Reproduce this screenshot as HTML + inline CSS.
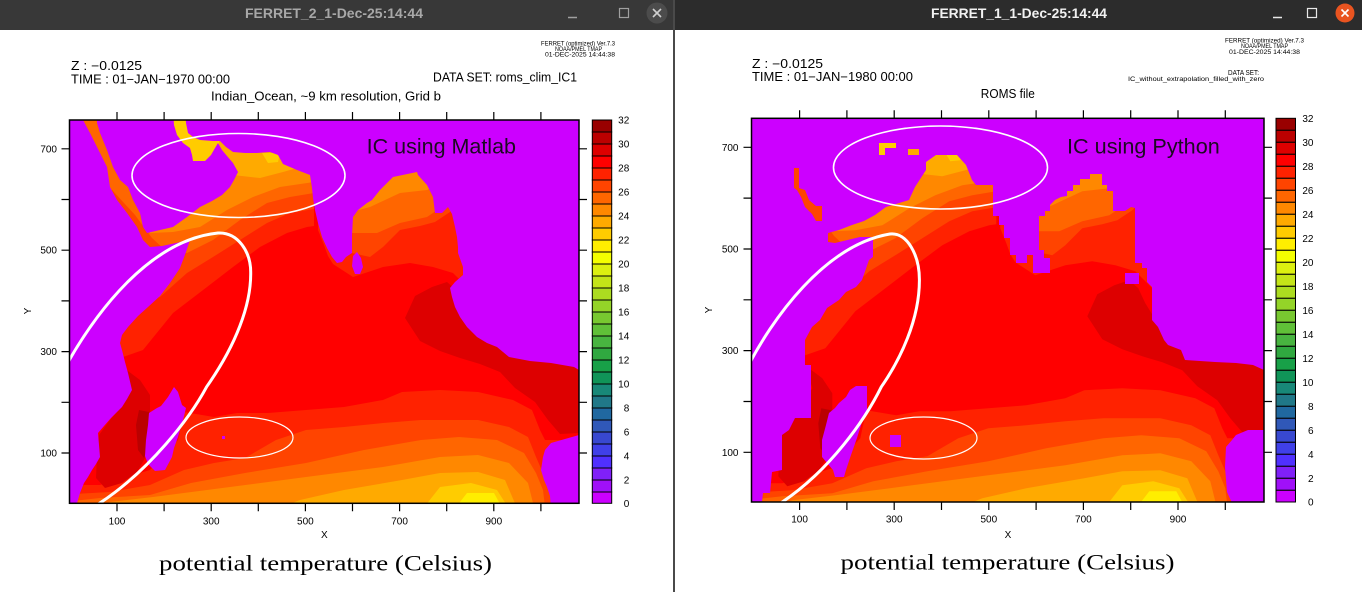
<!DOCTYPE html>
<html><head><meta charset="utf-8"><style>
html,body{margin:0;padding:0;background:#fff;}
svg{display:block;}
text{font-family:"Liberation Sans",sans-serif;fill:#000;}
</style></head><body>
<svg width="1362" height="592" viewBox="0 0 1362 592" xmlns="http://www.w3.org/2000/svg">
<defs>
<clipPath id="cl"><rect x="69.5" y="120" width="509.5" height="383.5"/></clipPath>
<clipPath id="cr"><rect x="751.5" y="118.3" width="512.5" height="383.7"/></clipPath>
<g id="oc">
<rect x="55" y="105" width="545" height="410" fill="#ff0000"/>
<path fill="#ff2200" d="M55,105 L55,372 L120,358 L143,350 L173,313 L207,287 L233,267 L260,247 L287,233 L307,227 L314,226 L314,105 Z"/>
<path fill="#ff4400" d="M55,105 L55,300 L150,300 L160,297 L187,273 L213,257 L240,240 L267,223 L290,213 L314,209 L314,105 Z"/>
<path fill="#ff6600" d="M55,105 L55,190 L112,190 L135,215 L152,238 L165,250 L187,253 L213,240 L240,220 L267,203 L290,197 L314,193 L314,105 Z"/>
<path fill="#ff8800" d="M150,105 L150,233 L173,232 L200,227 L227,210 L253,197 L280,187 L314,182 L314,105 Z"/>
<path fill="#ffaa00" d="M214,105 L214,165 L233,175 L260,178 L283,172 L297,168 L314,166 L314,105 Z"/>
<path fill="#ffcc00" d="M165,105 L219,105 L219,146 L213,158 L200,163 L188,163 L178,150 L168,138 Z M262,153 L280,153 L278,162 L268,163 Z"/>
<path fill="#ff2200" d="M318,105 L318,230 L324,245 L328,256 L333,264 L353,277 L383,267 L410,263 L433,267 L453,273 L467,287 L485,305 L600,305 L600,105 Z"/>
<path fill="#ff4400" d="M340,105 L340,253 L352,253 L370,257 L383,247 L400,230 L420,226 L435,222 L450,212 L462,200 L600,200 L600,105 Z"/>
<path fill="#ff6600" d="M340,105 L340,233 L377,233 L400,223 L427,217 L445,205 L600,195 L600,105 Z"/>
<path fill="#ff8800" d="M340,105 L340,215 L370,207 L400,193 L427,190 L440,185 L600,185 L600,105 Z"/>
<path fill="#dd0000" d="M405,318 L415,296 L432,287 L447,282 L456,290 L463,305 L476,326 L490,342 L510,352 L545,357 L600,360 L600,432 L560,434 L548,420 L535,402 L515,388 L500,372 L480,364 L460,358 L440,351 L420,341 Z"/>
<path fill="#ff2200" d="M55,515 L55,485 L100,485 L150,470 L178,440 L184,412 L214,417 L237,413 L268,413 L306,410 L344,407 L383,400 L402,392 L440,390 L478,392 L513,400 L532,410 L540,430 L545,440 L600,440 L600,515 Z"/>
<path fill="#ff4400" d="M55,515 L55,495 L110,492 L150,485 L184,470 L214,463 L245,458 L276,440 L306,430 L344,427 L383,423 L421,420 L478,420 L509,427 L528,437 L536,457 L543,473 L600,473 L600,515 Z"/>
<path fill="#ff6600" d="M55,515 L55,503 L100,498 L150,495 L191,483 L245,473 L306,463 L364,450 L421,440 L459,437 L497,440 L524,453 L536,473 L543,490 L546,515 Z"/>
<path fill="#ff8800" d="M78,515 L110,502 L153,497 L230,487 L306,477 L383,467 L440,457 L478,455 L509,463 L528,483 L536,515 Z"/>
<path fill="#ffaa00" d="M262,515 L300,500 L344,490 L402,480 L440,473 L478,472 L505,480 L520,515 Z"/>
<path fill="#ffcc00" d="M418,515 L440,487 L471,483 L497,490 L513,515 Z"/>
<path fill="#ffee00" d="M450,515 L467,493 L494,493 L506,515 Z"/>
<path fill="#dd0000" d="M124,368 L140,380 L150,395 L150,413 L147,440 L145,458 L137,472 L122,483 L105,488 L96,478 L97,455 L99,435 L110,420 L121,407 L130,390 Z"/>
<path fill="#bb0000" d="M139,410 L149,412 L148,445 L144,458 L138,450 L136,425 Z"/>
</g>
</defs>

<!-- window chrome -->
<rect x="0" y="0" width="1362" height="592" fill="#ffffff"/>
<rect x="0" y="0" width="673" height="30" fill="#383838"/>
<rect x="673" y="0" width="2" height="592" fill="#4a4a4a"/>
<rect x="675" y="0" width="687" height="30" fill="#2c2c2c"/>
<text x="334" y="18" font-size="14" font-weight="bold" text-anchor="middle" textLength="178" lengthAdjust="spacingAndGlyphs" style="fill:#a8a8a8">FERRET_2_1-Dec-25:14:44</text>
<text x="1019" y="18" font-size="14" font-weight="bold" text-anchor="middle" textLength="176" lengthAdjust="spacingAndGlyphs" style="fill:#f2f2f2">FERRET_1_1-Dec-25:14:44</text>
<line x1="568" y1="17.5" x2="577" y2="17.5" stroke="#a0a0a0" stroke-width="1.5"/>
<rect x="619.5" y="8.5" width="9" height="9" fill="none" stroke="#a0a0a0" stroke-width="1.2"/>
<circle cx="657" cy="13" r="10.5" fill="#4c4c4c"/>
<path d="M653,9 L661,17 M661,9 L653,17" stroke="#d0d0d0" stroke-width="1.6"/>
<line x1="1273" y1="17.5" x2="1282" y2="17.5" stroke="#e8e8e8" stroke-width="1.5"/>
<rect x="1307.5" y="8.5" width="9" height="9" fill="none" stroke="#e8e8e8" stroke-width="1.2"/>
<circle cx="1345" cy="13" r="9.5" fill="#e95420"/>
<path d="M1341.5,9.5 L1348.5,16.5 M1348.5,9.5 L1341.5,16.5" stroke="#ffffff" stroke-width="1.6"/>

<!-- LEFT header -->
<text x="541" y="45.7" font-size="6" textLength="74" lengthAdjust="spacingAndGlyphs">FERRET (optimized) Ver.7.3</text>
<text x="555" y="50.9" font-size="6" textLength="47" lengthAdjust="spacingAndGlyphs">NOAA/PMEL TMAP</text>
<text x="545" y="56.6" font-size="6" textLength="70" lengthAdjust="spacingAndGlyphs">01-DEC-2025 14:44:38</text>
<text x="71" y="70" font-size="12.5" textLength="71" lengthAdjust="spacingAndGlyphs">Z : −0.0125</text>
<text x="71" y="83.3" font-size="12.5" textLength="159" lengthAdjust="spacingAndGlyphs">TIME : 01−JAN−1970 00:00</text>
<text x="433" y="81.7" font-size="12.5" textLength="144" lengthAdjust="spacingAndGlyphs">DATA SET: roms_clim_IC1</text>
<text x="211" y="100.7" font-size="12.5" textLength="230" lengthAdjust="spacingAndGlyphs">Indian_Ocean, ~9 km resolution, Grid b</text>

<!-- LEFT plot -->
<g clip-path="url(#cl)">
<use href="#oc"/>
<g fill="#cc00ff">
<path d="M60,110 L83,110 L83,120 L90,133 L100,153 L107,167 L110,187 L117,200 L127,213 L137,227 L143,240 L150,247 L162,246 L176,243 L190,240 L186,252 L180,268 L170,283 L160,296 L148,307 L138,316 L128,327 L122,335 L120,343 L122,350 L125,362 L128,373 L132,390 L127,399 L122,407 L111,418 L104,426 L98,433 L99,445 L100,457 L96,464 L92,470 L88,477 L84,483 L80,493 L77,503 L76,510 L60,510 Z"/>
<path d="M97,110 L173,110 L174,125 L177,135 L183,143 L190,148 L192,155 L193,161 L205,161 L211,155 L215,148 L218,143 L222,150 L227,156 L233,163 L238,172 L234,180 L230,187 L222,195 L212,201 L200,207 L187,217 L173,227 L160,230 L147,233 L143,227 L140,213 L133,200 L128,187 L120,180 L113,167 L107,150 L100,133 L97,123 Z"/>
<path d="M184,110 L590,110 L590,371 L579,370 L574,367 L551,363 L530,361 L509,357 L497,347 L487,343 L477,337 L467,327 L460,317 L455,307 L452,297 L450,288 L455,282 L463,275 L463,267 L458,253 L458,247 L457,237 L455,227 L452,214 L448,207 L442,213 L435,213 L433,197 L427,185 L418,175 L417,172 L393,177 L390,180 L380,190 L372,200 L367,203 L358,210 L353,217 L352,235 L352,253 L346,257 L342,262 L337,263 L332,257 L327,248 L322,237 L318,223 L315,210 L313,198 L312,188 L310,175 L297,170 L283,164 L278,155 L270,152 L257,153 L245,153 L233,152 L226,147 L220,141 L213,141 L200,140 L193,137 L188,133 L186,123 L185,110 Z"/>
<path d="M353,256 L357,252 L361,258 L363,267 L360,274 L355,274 L352,266 Z"/>
<path d="M174,387 L178,392 L182,405 L186,408 L183,420 L178,437 L174,448 L172,457 L165,470 L155,471 L148,464 L145,456 L146,440 L148,425 L149,413 L157,408 L161,406 L168,397 Z"/>
<path d="M590,434 L579,435 L565,439 L551,443 L545,450 L543,457 L541,470 L544,480 L547,487 L550,496 L551,510 L590,510 Z"/>
<rect x="222" y="436" width="3" height="3"/>
</g>
<ellipse cx="238.5" cy="175.5" rx="106.5" ry="42" fill="none" stroke="#fff" stroke-width="1.6"/>
<ellipse cx="239.5" cy="437.5" rx="53.5" ry="20.5" fill="none" stroke="#fff" stroke-width="1.2"/>
<path d="M62,373 C95,312 150,240 218,233 C238,232 251,252 250.7,273 C251,305 236,345 206.7,386.7 C190,418 150,470 99.5,503.3 L90,509" fill="none" stroke="#fff" stroke-width="3" stroke-linejoin="round"/>
<text x="366.7" y="153.3" font-size="21" textLength="149.3" lengthAdjust="spacingAndGlyphs" style="fill:#1c0a22">IC using Matlab</text>
</g>
<rect x="69.5" y="120" width="509.5" height="383.3" fill="none" stroke="#000" stroke-width="1.5"/>
<path stroke="#000" stroke-width="1.2" d="M117,112V120M164.1,112V120M211.2,112V120M258.3,112V120M305.4,112V120M352.5,112V120M399.6,112V120M446.7,112V120M493.8,112V120M540.9,112V120
M117,503.3V511.3M164.1,503.3V511.3M211.2,503.3V511.3M258.3,503.3V511.3M305.4,503.3V511.3M352.5,503.3V511.3M399.6,503.3V511.3M446.7,503.3V511.3M493.8,503.3V511.3M540.9,503.3V511.3
M61.5,148.8H69.5M61.5,199.5H69.5M61.5,250.2H69.5M61.5,300.9H69.5M61.5,351.6H69.5M61.5,402.3H69.5M61.5,453H69.5
M579,148.8H587M579,199.5H587M579,250.2H587M579,300.9H587M579,351.6H587M579,402.3H587M579,453H587"/>
<g font-size="10" text-anchor="end">
<text x="57" y="152.3">700</text><text x="57" y="253.7">500</text><text x="57" y="355.1">300</text><text x="57" y="456.5">100</text>
</g>
<g font-size="10" text-anchor="middle">
<text x="117" y="524.5">100</text><text x="211.2" y="524.5">300</text><text x="305.4" y="524.5">500</text><text x="399.6" y="524.5">700</text><text x="493.8" y="524.5">900</text>
<text x="324.3" y="538">X</text>
<text transform="translate(31,311) rotate(-90)" x="0" y="0">Y</text>
</g>
<text x="159" y="570.7" font-size="22" textLength="333" lengthAdjust="spacingAndGlyphs" style="font-family:'Liberation Serif',serif">potential temperature (Celsius)</text>

<!-- LEFT colorbar -->
<g stroke="#000" stroke-width="1">
<rect x="592.3" y="120" width="19.4" height="12" fill="#990000"/>
<rect x="592.3" y="132" width="19.4" height="12" fill="#bb0000"/>
<rect x="592.3" y="144" width="19.4" height="12" fill="#dd0000"/>
<rect x="592.3" y="156" width="19.4" height="12" fill="#ff0000"/>
<rect x="592.3" y="168" width="19.4" height="12" fill="#ff2200"/>
<rect x="592.3" y="180" width="19.4" height="12" fill="#ff4400"/>
<rect x="592.3" y="192" width="19.4" height="12" fill="#ff6600"/>
<rect x="592.3" y="204" width="19.4" height="12" fill="#ff8800"/>
<rect x="592.3" y="216" width="19.4" height="12" fill="#ffaa00"/>
<rect x="592.3" y="228" width="19.4" height="12" fill="#ffcc00"/>
<rect x="592.3" y="240" width="19.4" height="12" fill="#ffee00"/>
<rect x="592.3" y="252" width="19.4" height="12" fill="#f4ff00"/>
<rect x="592.3" y="264" width="19.4" height="12" fill="#dcf010"/>
<rect x="592.3" y="276" width="19.4" height="12" fill="#c4e418"/>
<rect x="592.3" y="288" width="19.4" height="12" fill="#acdc20"/>
<rect x="592.3" y="300" width="19.4" height="12" fill="#94d428"/>
<rect x="592.3" y="312" width="19.4" height="12" fill="#78c830"/>
<rect x="592.3" y="324" width="19.4" height="12" fill="#60c038"/>
<rect x="592.3" y="336" width="19.4" height="12" fill="#48b440"/>
<rect x="592.3" y="348" width="19.4" height="12" fill="#30a840"/>
<rect x="592.3" y="360" width="19.4" height="12" fill="#18a048"/>
<rect x="592.3" y="372" width="19.4" height="12" fill="#109458"/>
<rect x="592.3" y="384" width="19.4" height="12" fill="#188878"/>
<rect x="592.3" y="396" width="19.4" height="12" fill="#207888"/>
<rect x="592.3" y="408" width="19.4" height="12" fill="#2068a0"/>
<rect x="592.3" y="420" width="19.4" height="12" fill="#3058b8"/>
<rect x="592.3" y="432" width="19.4" height="12" fill="#3848d0"/>
<rect x="592.3" y="444" width="19.4" height="12" fill="#4040e8"/>
<rect x="592.3" y="456" width="19.4" height="12" fill="#5030ff"/>
<rect x="592.3" y="468" width="19.4" height="12" fill="#8020f8"/>
<rect x="592.3" y="480" width="19.4" height="12" fill="#a010f8"/>
<rect x="592.3" y="492" width="19.4" height="11.3" fill="#cc00ff"/>
</g>
<g font-size="10" text-anchor="end">
<text x="629.3" y="123.5">32</text><text x="629.3" y="147.5">30</text><text x="629.3" y="171.5">28</text><text x="629.3" y="195.5">26</text><text x="629.3" y="219.5">24</text><text x="629.3" y="243.5">22</text><text x="629.3" y="267.5">20</text><text x="629.3" y="291.5">18</text><text x="629.3" y="315.5">16</text><text x="629.3" y="339.5">14</text><text x="629.3" y="363.5">12</text><text x="629.3" y="387.5">10</text><text x="629.3" y="411.5">8</text><text x="629.3" y="435.5">6</text><text x="629.3" y="459.5">4</text><text x="629.3" y="483.5">2</text><text x="629.3" y="507">0</text>
</g>

<!-- RIGHT header -->
<text x="1225" y="42.3" font-size="6" textLength="79" lengthAdjust="spacingAndGlyphs">FERRET (optimized) Ver.7.3</text>
<text x="1241" y="47.8" font-size="6" textLength="47" lengthAdjust="spacingAndGlyphs">NOAA/PMEL TMAP</text>
<text x="1229" y="53.8" font-size="6" textLength="71" lengthAdjust="spacingAndGlyphs">01-DEC-2025 14:44:38</text>
<text x="1228" y="75" font-size="7" textLength="31" lengthAdjust="spacingAndGlyphs">DATA SET:</text>
<text x="1128" y="80.8" font-size="6.5" textLength="136" lengthAdjust="spacingAndGlyphs">IC_without_extrapolation_filled_with_zero</text>
<text x="752" y="67.8" font-size="12.5" textLength="71" lengthAdjust="spacingAndGlyphs">Z : −0.0125</text>
<text x="752" y="81.2" font-size="12.5" textLength="161" lengthAdjust="spacingAndGlyphs">TIME : 01−JAN−1980 00:00</text>
<text x="1007.8" y="97.8" font-size="12.5" text-anchor="middle" textLength="54" lengthAdjust="spacingAndGlyphs">ROMS file</text>

<!-- RIGHT plot -->
<g clip-path="url(#cr)">
<use href="#oc" transform="translate(682.3,-1.7)"/>
<g fill="#cc00ff">
<path d="M745,105 L1275,105 L1275,372 L1264,370 L1253,365 L1236,363 L1215,362 L1185,360 L1181,350 L1168,345 L1164,340 L1158,327 L1152,320 L1152,287 L1147,282 L1147,268 L1142,268 L1142,263 L1135,263 L1135,208 L1131,207 L1125,211 L1113,211 L1113,191 L1107,191 L1107,185 L1102,185 L1102,174 L1090,174 L1090,179 L1080,179 L1080,185 L1073,185 L1073,191 L1067,191 L1067,196 L1061,197 L1055,200 L1050,205 L1050,211 L1045,211 L1045,216 L1039,216 L1039,250 L1044,250 L1044,258 L1050,258 L1050,273 L1033,273 L1033,255 L1027,255 L1027,263 L1016,263 L1016,255 L1010,255 L1010,238 L1004,238 L1004,225 L999,225 L999,216 L993,216 L993,185 L976,185 L972,180 L966,165 L957,155 L936,155 L926,162 L926,170 L915,187 L909,200 L886,207 L875,215 L864,221 L852,225 L839,230 L828,233 L828,242 L835,243 L860,237 L873,237 L873,257 L869,260 L862,280 L856,287 L846,292 L839,300 L827,308 L820,320 L812,327 L805,340 L805,365 L811,365 L811,418 L795,418 L789,430 L782,435 L782,470 L772,472 L770,493 L763,493 L761,510 L745,510 Z"/>
<path d="M856,386 L867,386 L867,410 L862,422 L857,438 L851,455 L846,470 L844,477 L835,477 L833,470 L822,457 L822,440 L826,425 L829,413 L835,408 L839,403 L846,397 L850,390 Z"/>
<path d="M1275,430 L1248,430 L1236,435 L1232,440 L1226,447 L1225,467 L1227,492 L1232,503 L1232,510 L1275,510 Z"/>
<rect x="1125" y="273" width="14" height="11"/>
<rect x="890" y="435" width="11" height="12"/>
</g>
<path fill="#ff4400" d="M794,168 L799,168 L799,188 L805,190 L809,200 L816,206 L822,206 L822,221 L816,221 L812,214 L805,207 L801,197 L797,190 L794,188 Z"/>
<path fill="#ffcc00" d="M879,143 L896,143 L896,148 L885,148 L885,155 L879,155 Z"/>
<path fill="#ffaa00" d="M908,149 L919,149 L919,155 L908,155 Z"/>
<ellipse cx="940.5" cy="167.5" rx="107" ry="41.5" fill="none" stroke="#fff" stroke-width="1.6"/>
<ellipse cx="923.5" cy="438" rx="53.5" ry="21" fill="none" stroke="#fff" stroke-width="1.2"/>
<path d="M745,372 C772,318 825,245 889.9,234 C907,232 919.5,255 919.4,280 C919.5,320 900,360 881.4,386.7 C865,420 830,470 782.3,502 L775,508" fill="none" stroke="#fff" stroke-width="3" stroke-linejoin="round"/>
<text x="1067" y="153.3" font-size="21" textLength="152.8" lengthAdjust="spacingAndGlyphs" style="fill:#1c0a22">IC using Python</text>
</g>
<rect x="751.5" y="118.3" width="512.5" height="383.7" fill="none" stroke="#000" stroke-width="1.5"/>
<path stroke="#000" stroke-width="1.2" d="M799.6,110.3V118.3M846.9,110.3V118.3M894.2,110.3V118.3M941.5,110.3V118.3M988.8,110.3V118.3M1036.1,110.3V118.3M1083.4,110.3V118.3M1130.7,110.3V118.3M1178,110.3V118.3M1225.3,110.3V118.3
M799.6,502V510M846.9,502V510M894.2,502V510M941.5,502V510M988.8,502V510M1036.1,502V510M1083.4,502V510M1130.7,502V510M1178,502V510M1225.3,502V510
M743.5,147.3H751.5M743.5,198.1H751.5M743.5,249H751.5M743.5,299.8H751.5M743.5,350.6H751.5M743.5,401.5H751.5M743.5,452.3H751.5
M1264,147.3H1272M1264,198.1H1272M1264,249H1272M1264,299.8H1272M1264,350.6H1272M1264,401.5H1272M1264,452.3H1272"/>
<g font-size="10" text-anchor="end">
<text x="738.5" y="150.8">700</text><text x="738.5" y="252.5">500</text><text x="738.5" y="354.1">300</text><text x="738.5" y="455.8">100</text>
</g>
<g font-size="10" text-anchor="middle">
<text x="799.6" y="522.7">100</text><text x="894.2" y="522.7">300</text><text x="988.8" y="522.7">500</text><text x="1083.4" y="522.7">700</text><text x="1178" y="522.7">900</text>
<text x="1008" y="538">X</text>
<text transform="translate(712,310) rotate(-90)" x="0" y="0">Y</text>
</g>
<text x="840.5" y="569.5" font-size="22" textLength="334" lengthAdjust="spacingAndGlyphs" style="font-family:'Liberation Serif',serif">potential temperature (Celsius)</text>

<!-- RIGHT colorbar -->
<g stroke="#000" stroke-width="1">
<rect x="1276" y="118.3" width="19.5" height="12" fill="#990000"/>
<rect x="1276" y="130.3" width="19.5" height="12" fill="#bb0000"/>
<rect x="1276" y="142.3" width="19.5" height="12" fill="#dd0000"/>
<rect x="1276" y="154.3" width="19.5" height="12" fill="#ff0000"/>
<rect x="1276" y="166.3" width="19.5" height="12" fill="#ff2200"/>
<rect x="1276" y="178.3" width="19.5" height="12" fill="#ff4400"/>
<rect x="1276" y="190.3" width="19.5" height="12" fill="#ff6600"/>
<rect x="1276" y="202.3" width="19.5" height="12" fill="#ff8800"/>
<rect x="1276" y="214.3" width="19.5" height="12" fill="#ffaa00"/>
<rect x="1276" y="226.3" width="19.5" height="12" fill="#ffcc00"/>
<rect x="1276" y="238.3" width="19.5" height="12" fill="#ffee00"/>
<rect x="1276" y="250.3" width="19.5" height="12" fill="#f4ff00"/>
<rect x="1276" y="262.3" width="19.5" height="12" fill="#dcf010"/>
<rect x="1276" y="274.3" width="19.5" height="12" fill="#c4e418"/>
<rect x="1276" y="286.3" width="19.5" height="12" fill="#acdc20"/>
<rect x="1276" y="298.3" width="19.5" height="12" fill="#94d428"/>
<rect x="1276" y="310.3" width="19.5" height="12" fill="#78c830"/>
<rect x="1276" y="322.3" width="19.5" height="12" fill="#60c038"/>
<rect x="1276" y="334.3" width="19.5" height="12" fill="#48b440"/>
<rect x="1276" y="346.3" width="19.5" height="12" fill="#30a840"/>
<rect x="1276" y="358.3" width="19.5" height="12" fill="#18a048"/>
<rect x="1276" y="370.3" width="19.5" height="12" fill="#109458"/>
<rect x="1276" y="382.3" width="19.5" height="12" fill="#188878"/>
<rect x="1276" y="394.3" width="19.5" height="12" fill="#207888"/>
<rect x="1276" y="406.3" width="19.5" height="12" fill="#2068a0"/>
<rect x="1276" y="418.3" width="19.5" height="12" fill="#3058b8"/>
<rect x="1276" y="430.3" width="19.5" height="12" fill="#3848d0"/>
<rect x="1276" y="442.3" width="19.5" height="12" fill="#4040e8"/>
<rect x="1276" y="454.3" width="19.5" height="12" fill="#5030ff"/>
<rect x="1276" y="466.3" width="19.5" height="12" fill="#8020f8"/>
<rect x="1276" y="478.3" width="19.5" height="12" fill="#a010f8"/>
<rect x="1276" y="490.3" width="19.5" height="11.7" fill="#cc00ff"/>
</g>
<g font-size="10" text-anchor="end">
<text x="1313.5" y="121.8">32</text><text x="1313.5" y="145.8">30</text><text x="1313.5" y="169.8">28</text><text x="1313.5" y="193.8">26</text><text x="1313.5" y="217.8">24</text><text x="1313.5" y="241.8">22</text><text x="1313.5" y="265.8">20</text><text x="1313.5" y="289.8">18</text><text x="1313.5" y="313.8">16</text><text x="1313.5" y="337.8">14</text><text x="1313.5" y="361.8">12</text><text x="1313.5" y="385.8">10</text><text x="1313.5" y="409.8">8</text><text x="1313.5" y="433.8">6</text><text x="1313.5" y="457.8">4</text><text x="1313.5" y="481.8">2</text><text x="1313.5" y="505.5">0</text>
</g>
</svg>
</body></html>
